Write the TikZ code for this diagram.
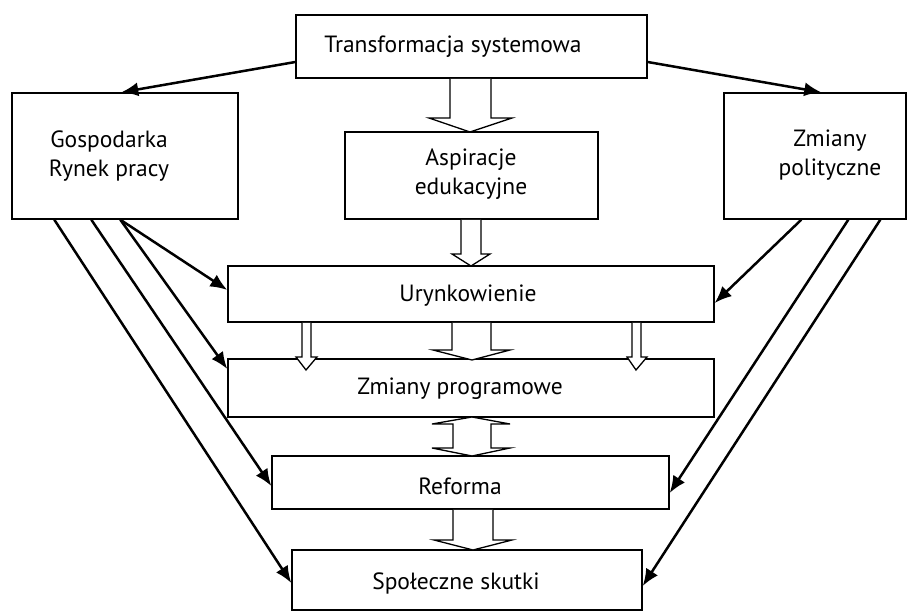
\documentclass[tikz,border=0pt]{standalone}
\usepackage{fontspec}
\setmainfont{PT Sans}
\usetikzlibrary{arrows.meta}
\begin{document}
\begin{tikzpicture}[x=1pt,y=-1pt,
  box/.style={draw=black, line width=1.4pt, inner sep=0pt},
  lbl/.style={font=\fontsize{23.5}{28.5}\selectfont, align=center, inner sep=0pt},
  conn/.style={line width=2.5pt, -{Latex[length=17pt,width=14pt]}},
  hollow/.style={draw=black, line width=1.3pt, fill=white, line join=miter}]
\useasboundingbox (0,0) rectangle (908,612);
% boxes
\node[box, minimum width=351pt, minimum height=63pt] (tr) at (471.5,46.5) {};
\node[box, minimum width=226pt, minimum height=126pt] (gos) at (125,156) {};
\node[box, minimum width=253pt, minimum height=87pt] (asp) at (471.5,175.5) {};
\node[box, minimum width=182pt, minimum height=126pt] (pol) at (815,156) {};
\node[box, minimum width=486pt, minimum height=56pt] (ury) at (471,294) {};
\node[box, minimum width=486pt, minimum height=58pt] (prog) at (471,388) {};
\node[box, minimum width=397pt, minimum height=53pt] (ref) at (470.5,482.5) {};
\node[box, minimum width=350pt, minimum height=60pt] (spo) at (467,580) {};
% texts
\node[lbl] (trT) at (453,47) {Transformacja systemowa};
\node[lbl] (gosT) at (109,156) {Gospodarka\\Rynek pracy};
\node[lbl] (aspT) at (471,174) {Aspiracje\\edukacyjne};
\node[lbl] (polT) at (830,155) {Zmiany\\polityczne};
\node[lbl] (uryT) at (468,296) {Urynkowienie};
\node[lbl] (progT) at (460,389) {Zmiany programowe};
\node[lbl] (refT) at (460,486) {Reforma};
\node[lbl] (spoT) at (456,583) {Społeczne skutki};
% black connectors
\draw[conn] ([yshift=-15.5pt]tr.west) -- ([xshift=110pt]gos.north west);
\draw[conn] ([yshift=-15.5pt]tr.east) -- ([xshift=98pt]pol.north west);
\draw[conn] ([xshift=109pt]gos.south west) -- ([yshift=4pt]ury.west);
\draw[conn] ([xshift=109pt]gos.south west) -- ([yshift=19pt]prog.west);
\draw[conn] ([xshift=80pt]gos.south west) -- ([yshift=-3.5pt]ref.west);
\draw[conn] ([xshift=43pt]gos.south west) -- ([yshift=-3pt]spo.west);
\draw[conn] ([xshift=78pt]pol.south west) -- ([yshift=-9pt]ury.east);
\draw[conn] ([xshift=125pt]pol.south west) -- ([yshift=-10.5pt]ref.east);
\draw[conn] ([xshift=157pt]pol.south west) -- ([yshift=-6pt]spo.east);
% hollow block arrows
\path[hollow] (450,78.8) -- (450,118) -- (429,118) -- (470,132) -- (512,118) -- (491,118) -- (491,78.8);
\path[hollow] (461,219.8) -- (461,254) -- (452,254) -- (471,266) -- (490,254) -- (481,254) -- (481,219.8);
\path[hollow] (302,322.8) -- (302,357) -- (296,357) -- (306,370) -- (317,357) -- (311,357) -- (311,322.8);
\path[hollow] (452,322.8) -- (452,350) -- (433,350) -- (472,360) -- (510,350) -- (491,350) -- (491,322.8);
\path[hollow] (632,322.8) -- (632,357) -- (627,357) -- (636,370) -- (647,357) -- (641,357) -- (641,322.8);
\path[hollow] (472,417) -- (510,424) -- (491,424) -- (491,448) -- (510,448) -- (472,456) -- (432,448) -- (453,448) -- (453,424) -- (432,424) -- cycle;
\path[hollow] (453,509.8) -- (453,540) -- (434,540) -- (473,550) -- (512,540) -- (493,540) -- (493,509.8);
\end{tikzpicture}
\end{document}
